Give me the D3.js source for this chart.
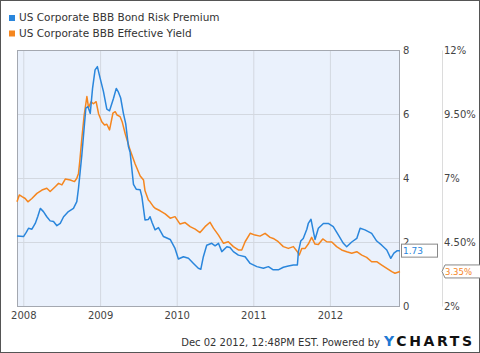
<!DOCTYPE html>
<html>
<head>
<meta charset="utf-8">
<script src="https://cdn.jsdelivr.net/npm/d3@7"></script>
<style>
  body { margin: 0; background: #fff; }
  svg { display: block; font-family: 'DejaVu Sans', sans-serif; }
  .axis text { font-size: 10px; fill: #444; font-family: 'DejaVu Sans', sans-serif; }
  .axis .domain { stroke: none; }
  .grid line { stroke: #d3d8e0; stroke-width: 1; }
  .grid .domain { stroke: none; }
</style>
</head>
<body>
<svg id="chart"></svg>
<script>
// US Corporate BBB Bond Risk Premium (left axis)
const premiumDates = [
  '2007-12-02', '2007-12-18', '2008-01-02', '2008-01-15', '2008-01-26', '2008-02-11', '2008-02-27',
  '2008-03-10', '2008-03-22', '2008-04-06', '2008-04-22', '2008-05-08', '2008-05-24', '2008-06-09',
  '2008-06-25', '2008-07-11', '2008-08-03', '2008-08-27', '2008-09-12', '2008-09-20', '2008-09-28',
  '2008-10-06', '2008-10-14', '2008-10-25', '2008-11-04', '2008-11-15', '2008-11-26', '2008-12-08',
  '2008-12-19', '2009-01-01', '2009-01-17', '2009-02-02', '2009-02-15', '2009-03-06', '2009-03-19',
  '2009-03-28', '2009-04-09', '2009-04-22', '2009-05-03', '2009-05-16', '2009-05-24', '2009-06-09',
  '2009-06-22', '2009-07-11', '2009-07-19', '2009-08-03', '2009-08-18', '2009-08-27', '2009-09-06',
  '2009-09-20', '2009-10-06', '2009-10-30', '2009-12-01', '2009-12-24', '2010-01-09', '2010-02-02',
  '2010-02-26', '2010-03-22', '2010-04-14', '2010-04-26', '2010-05-08', '2010-05-24', '2010-06-17',
  '2010-07-03', '2010-07-19', '2010-08-04', '2010-08-28', '2010-09-12', '2010-09-28', '2010-10-22',
  '2010-11-23', '2010-12-17', '2011-01-18', '2011-02-18', '2011-03-14', '2011-04-06', '2011-04-30',
  '2011-05-24', '2011-06-17', '2011-07-11', '2011-07-30', '2011-08-04', '2011-08-15', '2011-08-27',
  '2011-09-13', '2011-09-20', '2011-10-03', '2011-10-15', '2011-10-22', '2011-11-07', '2011-12-01',
  '2011-12-24', '2012-01-17', '2012-02-10', '2012-03-05', '2012-03-21', '2012-04-14', '2012-05-08',
  '2012-05-24', '2012-06-16', '2012-07-18', '2012-08-11', '2012-09-04', '2012-09-28', '2012-10-17',
  '2012-11-01', '2012-11-17', '2012-11-30',
];
const premiumValues = [
  2.19, 2.18, 2.17, 2.3, 2.43, 2.4, 2.58,
  2.8, 3.05, 2.95, 2.79, 2.66, 2.64, 2.51,
  2.58, 2.79, 2.95, 3.05, 3.26, 3.68, 4.2,
  4.72, 5.34, 6.18, 6.23, 6.02, 6.8, 7.38,
  7.48, 7.12, 6.7, 6.15, 6.1, 6.49, 6.8,
  6.7, 6.5, 6.02, 5.7, 4.98, 4.8, 3.8,
  3.65, 3.63, 3.42, 2.69, 2.7, 2.79, 2.6,
  2.38, 2.45, 2.17, 2.08, 1.8, 1.47, 1.54,
  1.49, 1.33, 1.18, 1.15, 1.54, 1.9, 1.96,
  1.88, 1.96, 1.7, 1.85, 1.83, 1.7, 1.59,
  1.54, 1.33, 1.23, 1.18, 1.23, 1.13, 1.13,
  1.21, 1.25, 1.28, 1.28, 1.7, 2.03, 2.11,
  2.4, 2.58, 2.71, 2.3, 2.08, 2.43, 2.58,
  2.58, 2.48, 2.22, 1.96, 1.85, 2.0, 2.11,
  2.43, 2.38, 2.27, 2.03, 1.9, 1.75, 1.49,
  1.65, 1.73, 1.73,
];

// US Corporate BBB Effective Yield (right axis, %)
const yieldDates = [
  '2007-12-02', '2007-12-13', '2007-12-26', '2008-01-10', '2008-01-23', '2008-02-11', '2008-03-06',
  '2008-03-30', '2008-04-22', '2008-05-08', '2008-06-01', '2008-06-17', '2008-07-03', '2008-07-19',
  '2008-08-12', '2008-09-01', '2008-09-12', '2008-09-20', '2008-09-26', '2008-10-06', '2008-10-17',
  '2008-10-30', '2008-11-07', '2008-11-19', '2008-11-30', '2008-12-13', '2008-12-25', '2009-01-09',
  '2009-01-22', '2009-02-02', '2009-02-15', '2009-03-03', '2009-03-14', '2009-03-23', '2009-04-06',
  '2009-04-16', '2009-04-30', '2009-05-24', '2009-06-17', '2009-07-11', '2009-07-27', '2009-08-03',
  '2009-08-19', '2009-08-27', '2009-09-12', '2009-09-20', '2009-10-14', '2009-11-07', '2009-12-01',
  '2009-12-24', '2010-01-17', '2010-02-10', '2010-03-06', '2010-03-30', '2010-04-22', '2010-05-16',
  '2010-06-09', '2010-06-25', '2010-07-19', '2010-08-12', '2010-09-04', '2010-09-28', '2010-10-22',
  '2010-11-07', '2010-11-23', '2010-12-17', '2011-01-09', '2011-02-02', '2011-02-26', '2011-03-22',
  '2011-04-06', '2011-04-30', '2011-05-24', '2011-06-17', '2011-07-11', '2011-07-30', '2011-08-08',
  '2011-08-20', '2011-09-05', '2011-09-20', '2011-10-06', '2011-10-22', '2011-11-07', '2011-11-28',
  '2011-12-17', '2012-01-10', '2012-02-02', '2012-02-26', '2012-03-21', '2012-04-14', '2012-05-08',
  '2012-06-01', '2012-06-24', '2012-07-18', '2012-08-11', '2012-09-04', '2012-09-28', '2012-10-22',
  '2012-11-06', '2012-11-30',
];
const yieldValues = [
  6.07, 6.34, 6.27, 6.2, 6.07, 6.2, 6.4,
  6.53, 6.6, 6.47, 6.66, 6.79, 6.73, 6.96,
  6.92, 6.86, 6.99, 7.18, 7.64, 8.55, 9.45,
  10.18, 9.75, 9.98, 9.9, 9.98, 9.5, 9.2,
  9.07, 9.1, 8.88, 9.53, 9.59, 9.46, 9.4,
  9.2, 8.75, 8.09, 7.55, 7.08, 6.92, 6.5,
  6.14, 6.07, 5.88, 5.82, 5.72, 5.6, 5.43,
  5.49, 5.2, 5.26, 5.1, 5.0, 4.87, 5.1,
  5.27, 5.04, 4.77, 4.45, 4.51, 4.32, 4.19,
  4.19, 4.51, 4.84, 4.77, 4.73, 4.84, 4.68,
  4.64, 4.51, 4.32, 4.25, 4.32, 4.12, 3.99,
  4.25, 4.25, 4.42, 4.68, 4.42, 4.4, 4.62,
  4.51, 4.5, 4.32, 4.19, 4.12, 4.06, 4.12,
  3.99, 3.9, 3.73, 3.73, 3.6, 3.47, 3.34,
  3.28, 3.35,
];

const seriesNames = ['US Corporate BBB Bond Risk Premium', 'US Corporate BBB Effective Yield'];
const leftTicks = [0, 2, 4, 6, 8];
const rightTicks = [2, 4.5, 7, 9.5, 12];
const yearTicks = ['2008', '2009', '2010', '2011', '2012'];
const lastPremium = '1.73';
const lastYield = '3.35%';
const footerText = 'Dec 02 2012, 12:48PM EST. Powered by';

const config = {
  width: 480,
  height: 353,
  plot: { left: 17, right: 400, top: 50, bottom: 306 },
  rightAxisX: 442,
  blue: '#2a86dc',
  orange: '#f5861f',
};

const parseDate = d3.timeParse('%Y-%m-%d');
const premium = premiumDates.map((d, i) => ({ date: parseDate(d), value: premiumValues[i] }));
const yields = yieldDates.map((d, i) => ({ date: parseDate(d), value: yieldValues[i] }));

const svg = d3.select('#chart')
  .attr('width', config.width)
  .attr('height', config.height);

const p = config.plot;

// Scales
const xScale = d3.scaleTime()
  .domain([premium[0].date, premium[premium.length - 1].date])
  .range([p.left, p.right]);
const yLeft = d3.scaleLinear().domain([0, 8]).range([p.bottom, p.top]);
const yRight = d3.scaleLinear().domain([2, 12]).range([p.bottom, p.top]);

// outer frame
svg.append('rect')
  .attr('x', 0.5).attr('y', 0.5)
  .attr('width', config.width - 1).attr('height', config.height - 1)
  .attr('fill', '#fff')
  .attr('stroke', '#555');

// plot background
svg.append('rect')
  .attr('x', p.left).attr('y', p.top)
  .attr('width', p.right - p.left).attr('height', p.bottom - p.top)
  .attr('fill', '#eaf1fc');

// gridlines
const yearDates = yearTicks.map((y) => parseDate(`${y}-01-01`));
svg.append('g')
  .attr('class', 'grid')
  .attr('transform', `translate(0,${p.bottom})`)
  .call(d3.axisBottom(xScale).tickValues(yearDates).tickSize(-(p.bottom - p.top)).tickFormat(''));
svg.append('g')
  .attr('class', 'grid')
  .attr('transform', `translate(${p.left},0)`)
  .call(d3.axisLeft(yLeft).tickValues([2, 4, 6]).tickSize(-(p.right - p.left)).tickFormat(''));

// plot border
svg.append('rect')
  .attr('x', p.left + 0.5).attr('y', p.top + 0.5)
  .attr('width', p.right - p.left - 1).attr('height', p.bottom - p.top)
  .attr('fill', 'none')
  .attr('stroke', '#a4a8b0');

// lines
const lineLeft = d3.line().x((d) => xScale(d.date)).y((d) => yLeft(d.value));
const lineRight = d3.line().x((d) => xScale(d.date)).y((d) => yRight(d.value));

svg.append('path')
  .datum(yields)
  .attr('fill', 'none')
  .attr('stroke', config.orange)
  .attr('stroke-width', 1.5)
  .attr('stroke-linejoin', 'round')
  .attr('d', lineRight);

svg.append('path')
  .datum(premium)
  .attr('fill', 'none')
  .attr('stroke', config.blue)
  .attr('stroke-width', 1.5)
  .attr('stroke-linejoin', 'round')
  .attr('d', lineLeft);

// axes
svg.append('g')
  .attr('class', 'axis x-axis')
  .attr('transform', `translate(0,${p.bottom})`)
  .call(d3.axisBottom(xScale).tickValues(yearDates).tickSize(0).tickPadding(6)
    .tickFormat(d3.timeFormat('%Y')));

svg.append('g')
  .attr('class', 'axis y-axis-left')
  .attr('transform', `translate(${p.right},0)`)
  .call(d3.axisRight(yLeft).tickValues(leftTicks).tickSize(0).tickPadding(3));

const rightAxisG = svg.append('g')
  .attr('class', 'axis y-axis-right')
  .attr('transform', `translate(${config.rightAxisX},0)`)
  .call(d3.axisRight(yRight).tickValues(rightTicks).tickSize(0).tickPadding(2)
    .tickFormat((d) => `${d % 1 ? d.toFixed(2) : d}%`));
rightAxisG.select('.domain').style('stroke', '#dcdcdc');

// last value flags
const premiumY = yLeft(premiumValues[premiumValues.length - 1]);
svg.append('rect')
  .attr('x', p.right + 1.5).attr('y', premiumY - 6.5)
  .attr('width', 36).attr('height', 13)
  .attr('fill', '#fff')
  .attr('stroke', '#888');
svg.append('text')
  .attr('x', p.right + 3).attr('y', premiumY + 3.5)
  .attr('font-size', 9)
  .attr('fill', config.blue)
  .text(lastPremium);

const yieldY = yRight(yieldValues[yieldValues.length - 1]);
const ax = config.rightAxisX;
svg.append('path')
  .attr('d', `M${ax},${yieldY} L${ax + 3},${yieldY - 6.5} L${config.width + 2},${yieldY - 6.5} L${config.width + 2},${yieldY + 6.5} L${ax + 3},${yieldY + 6.5} Z`)
  .attr('fill', '#fff')
  .attr('stroke', '#888');
svg.append('text')
  .attr('x', ax + 3).attr('y', yieldY + 3.5)
  .attr('font-size', 8.5)
  .attr('fill', config.orange)
  .text(lastYield);

// legend
const legend = svg.append('g').attr('class', 'legend');
seriesNames.forEach((name, i) => {
  legend.append('rect')
    .attr('x', 9).attr('y', 15 + i * 15.5)
    .attr('width', 6).attr('height', 6)
    .attr('fill', i === 0 ? config.blue : config.orange);
  legend.append('text')
    .attr('x', 19).attr('y', 21 + i * 15.5)
    .attr('font-size', 10.5)
    .attr('fill', '#333')
    .text(name);
});

// footer
svg.append('text')
  .attr('x', 380).attr('y', 346)
  .attr('text-anchor', 'end')
  .attr('font-size', 10)
  .attr('fill', '#333')
  .text(footerText);

const logo = svg.append('text')
  .attr('x', 384).attr('y', 346)
  .attr('font-size', 14)
  .attr('font-weight', 'bold')
  .attr('textLength', 88)
  .attr('lengthAdjust', 'spacing');
logo.append('tspan').attr('fill', '#2079d4').text('Y');
logo.append('tspan').attr('fill', '#111').text('CHARTS');
</script>
</body>
</html>
